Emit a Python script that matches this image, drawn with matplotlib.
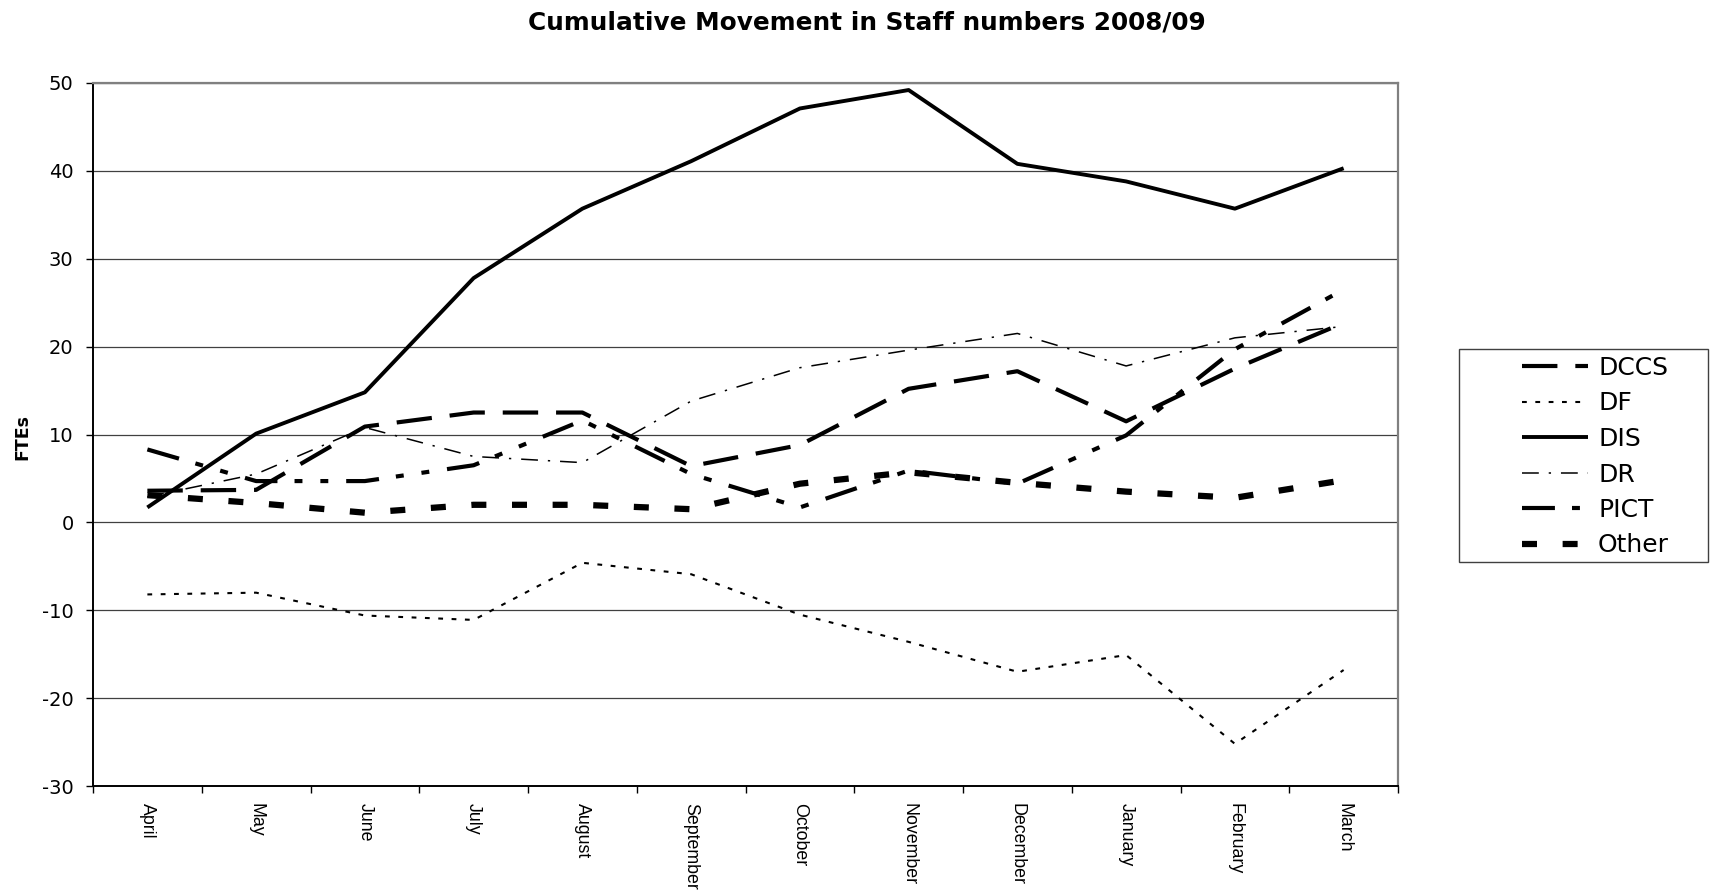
import numpy as np
import matplotlib.pyplot as plt
from matplotlib.patches import Rectangle

plt.rcParams['axes.unicode_minus'] = False

months = ['April', 'May', 'June', 'July', 'August', 'September',
          'October', 'November', 'December', 'January', 'February', 'March']

dccs = [3.6, 3.7, 10.9, 12.5, 12.5, 6.4, 8.8, 15.2, 17.2, 11.5, 17.5, 22.7]
df = [-8.2, -8.0, -10.6, -11.1, -4.6, -5.9, -10.5, -13.6, -17.0, -15.1, -25.2, -16.8]
dis = [1.7, 10.1, 14.8, 27.8, 35.7, 41.1, 47.1, 49.2, 40.8, 38.8, 35.7, 40.3]
dr = [2.9, 5.5, 10.8, 7.5, 6.8, 13.8, 17.6, 19.6, 21.5, 17.8, 21.0, 22.3]
pict = [8.3, 4.7, 4.7, 6.5, 11.6, 5.5, 1.7, 5.9, 4.4, 9.9, 19.7, 26.5]
other = [3.1, 2.2, 1.1, 2.0, 2.0, 1.5, 4.4, 5.7, 4.5, 3.5, 2.8, 4.8]

# name, values, line width, dash pattern
series = [
    ('DCCS', dccs, 3.0, (0, (8.5, 4.3))),
    ('DF', df, 1.5, (0, (2.3, 4.1))),
    ('DIS', dis, 2.8, '-'),
    ('DR', dr, 1.1, (0, (11, 6.5, 1.5, 6.5))),
    ('PICT', pict, 3.0, (0, (7.9, 4.1, 1.9, 4.3, 1.9, 4.3))),
    ('Other', other, 4.5, (0, (2.4, 4.1))),
]

W, H = 1710, 890
fig = plt.figure(figsize=(W / 100, H / 100), dpi=100)
ax = fig.add_axes([93 / W, 1 - 786 / H, (1398 - 93) / W, (786 - 83) / H])

x = np.arange(len(months))
handles = []
for name, vals, lw, ls in series:
    line, = ax.plot(x, vals, color='black', lw=lw, linestyle=ls, label=name,
                    dash_capstyle='butt', solid_capstyle='butt', zorder=3)
    handles.append(line)

ax.set_xlim(-0.5, len(months) - 0.5)
ax.set_ylim(-30, 50)
ax.set_yticks(range(-30, 51, 10))
ax.yaxis.grid(True, color='#404040', lw=0.9)
ax.set_axisbelow(True)

# ticks at category boundaries, labels at centres
ax.set_xticks(np.arange(-0.5, len(months), 1.0))
ax.set_xticklabels([])
ax.set_xticks(x, minor=True)
ax.set_xticklabels(months, minor=True, rotation=270,
                   family='Liberation Sans', fontsize=12.8)
ax.tick_params(axis='x', which='major', length=5, width=1, direction='out')
ax.tick_params(axis='x', which='minor', length=0, pad=12)
ax.tick_params(axis='y', length=5, width=1, direction='out', pad=9, labelsize=14)

for side in ['left', 'bottom']:
    ax.spines[side].set_color('black')
    ax.spines[side].set_linewidth(1.4)
for side in ['top', 'right']:
    ax.spines[side].set_color('#808080')
    ax.spines[side].set_linewidth(1.6)

fig.text(867 / W, 1 - 22 / H, 'Cumulative Movement in Staff numbers 2008/09',
         ha='center', va='center', fontsize=17.8, fontweight='bold')
fig.text(22 / W, 1 - 437 / H, 'FTEs', rotation=90, ha='center', va='center',
         fontsize=12.5, fontweight='bold')

# legend frame drawn separately, like the original box
fig.patches.append(Rectangle((1459 / W, 1 - 562 / H), (1708 - 1459) / W, (562 - 349) / H,
                             transform=fig.transFigure, fill=False,
                             edgecolor='#404040', lw=1.0))
fig.legend(handles, [s[0] for s in series], loc='upper left',
           bbox_to_anchor=(1522 / W, 1 - 356 / H), frameon=False,
           borderpad=0, borderaxespad=0, handlelength=2.64, handletextpad=0.4,
           labelspacing=0.46, fontsize=18)

fig.savefig('out.png', dpi=100)
